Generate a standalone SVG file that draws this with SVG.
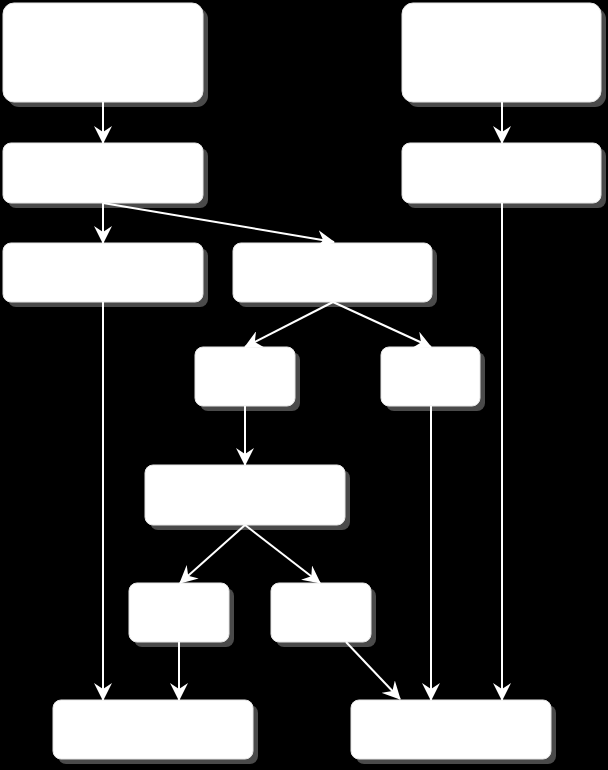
<svg xmlns="http://www.w3.org/2000/svg" width="608" height="770" viewBox="0 0 608 770">
<style>
.sh{fill:#4a4a4a}
.bx{fill:#ffffff;stroke:#e6e6e6;stroke-width:1}
.cn{stroke:#ffffff;stroke-width:2;fill:none;marker-end:url(#ah)}
</style>
<defs>
<marker id="ah" viewBox="0 0 18 18" refX="17" refY="9" markerWidth="18" markerHeight="18" markerUnits="userSpaceOnUse" orient="auto">
<path d="M18,9 L0,0 L6,9 L0,18 Z" fill="#ffffff"/>
</marker>
</defs>
<rect width="608" height="770" fill="#000000"/>
<g id="n1"><rect class="sh" x="8" y="8" width="200" height="99" rx="11"/><rect class="bx" x="3" y="3" width="200" height="99" rx="11"/></g>
<g id="n2"><rect class="sh" x="407" y="8" width="199" height="99" rx="11"/><rect class="bx" x="402" y="3" width="199" height="99" rx="11"/></g>
<g id="n3"><rect class="sh" x="8" y="148" width="200" height="60" rx="8"/><rect class="bx" x="3" y="143" width="200" height="60" rx="8"/></g>
<g id="n4"><rect class="sh" x="407" y="148" width="199" height="60" rx="8"/><rect class="bx" x="402" y="143" width="199" height="60" rx="8"/></g>
<g id="n5"><rect class="sh" x="8" y="248" width="200" height="59" rx="8"/><rect class="bx" x="3" y="243" width="200" height="59" rx="8"/></g>
<g id="n6"><rect class="sh" x="238" y="248" width="199" height="59" rx="8"/><rect class="bx" x="233" y="243" width="199" height="59" rx="8"/></g>
<g id="n7"><rect class="sh" x="200" y="352" width="100" height="59" rx="8"/><rect class="bx" x="195" y="347" width="100" height="59" rx="8"/></g>
<g id="n8"><rect class="sh" x="386" y="352" width="99" height="59" rx="8"/><rect class="bx" x="381" y="347" width="99" height="59" rx="8"/></g>
<g id="n9"><rect class="sh" x="150" y="470" width="200" height="60" rx="8"/><rect class="bx" x="145" y="465" width="200" height="60" rx="8"/></g>
<g id="n10"><rect class="sh" x="134" y="588" width="100" height="59" rx="8"/><rect class="bx" x="129" y="583" width="100" height="59" rx="8"/></g>
<g id="n11"><rect class="sh" x="276" y="588" width="100" height="59" rx="8"/><rect class="bx" x="271" y="583" width="100" height="59" rx="8"/></g>
<g id="n12"><rect class="sh" x="58" y="705" width="200" height="59" rx="8"/><rect class="bx" x="53" y="700" width="200" height="59" rx="8"/></g>
<g id="n13"><rect class="sh" x="356" y="705" width="200" height="59" rx="8"/><rect class="bx" x="351" y="700" width="200" height="59" rx="8"/></g>
<g id="connectors">
<path class="cn" d="M103,102 L103,143"/>
<path class="cn" d="M502,102 L502,143"/>
<path class="cn" d="M103,203 L103,243"/>
<path class="cn" d="M103,203 L334,242"/>
<path class="cn" d="M333,302 L245,347"/>
<path class="cn" d="M333,302 L431,347"/>
<path class="cn" d="M245,406 L245,465"/>
<path class="cn" d="M431,406 L431,700"/>
<path class="cn" d="M502,203 L502,700"/>
<path class="cn" d="M103,302 L103,700"/>
<path class="cn" d="M245,525 L180,583"/>
<path class="cn" d="M245,525 L320,583"/>
<path class="cn" d="M179,642 L179,700"/>
<path class="cn" d="M346,642 L400,699"/>
</g>
</svg>
